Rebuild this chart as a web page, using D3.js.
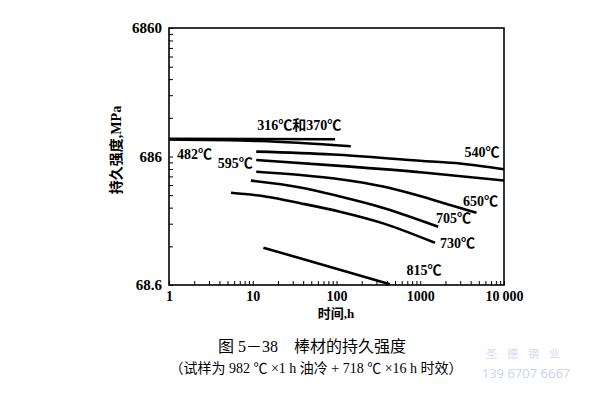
<!DOCTYPE html>
<html>
<head>
<meta charset="utf-8">
<script src="https://cdn.jsdelivr.net/npm/d3@7"></script>
<style>
  body { margin: 0; background: #fff; }
  svg { display: block; }
  .serif { font-family: "Liberation Serif", "Noto Sans CJK SC", serif; }
</style>
</head>
<body>
<div id="chart"></div>
<script>
// axis ticks
const xMajor = [1, 10, 100, 1000, 10000];
const xTickLabels = ["1", "10", "100", "1000", "10\u2009000"];
const yMajor = [68.6, 686, 6860];
const yTickLabels = ["68.6", "686", "6860"];

// curves: [hours, MPa]
const c316_370 = [[1, 940], [96, 935]];
const c482 = [[1, 930], [12, 905], [148, 825]];
const c540 = [[11, 748], [90, 711], [1080, 633], [3000, 605], [10000, 545]];
const c595 = [[11, 645], [110, 580], [1080, 515], [10000, 446]];
const c650 = [[11, 522], [37, 492], [110, 456], [360, 400], [900, 344], [2270, 288], [4700, 250]];
const c705 = [[9.5, 445], [37, 394], [110, 335], [330, 278], [1640, 195]];
const c730 = [[5.5, 358], [14.7, 334], [37, 297], [110, 255], [360, 207], [1500, 146]];
const c815 = [[13.4, 134], [435, 69.5]];

const curves = [c316_370, c482, c540, c595, c650, c705, c730, c815];
const curveNames = ["316℃和370℃", "482℃", "540℃", "595℃", "650℃", "705℃", "730℃", "815℃"];
// where each name sits, in data units
const labelAt = [[36, 1185], [2.02, 717], [5460, 743], [6.2, 600], [5240, 309], [2495, 224], [2785, 144], [1109, 89]];

(function () {
    'use strict'

    const W = 600, H = 393;
    const pLeft = 169, pRight = 504, pTop = 28, pBottom = 285;

    const svg = d3.select("#chart").append("svg").attr("width", W).attr("height", H);

    const x = d3.scaleLog().domain([1, 10000]).range([pLeft, pRight]);
    const y = d3.scaleLog().domain([68.6, 6860]).range([pBottom, pTop]);

    // minor ticks 1..9 per decade
    function logTicks(majors) {
        let t = [];
        majors.slice(0, -1).forEach(m => { for (let k = 1; k < 10; k++) t.push(m * k); });
        t.push(majors[majors.length - 1]);
        return t;
    }

    svg.append("clipPath").attr("id", "clip")
        .append("rect").attr("x", pLeft).attr("y", pTop).attr("width", pRight - pLeft).attr("height", pBottom - pTop);

    // x axis
    const xAxis = svg.append("g")
        .attr("transform", `translate(0,${pBottom})`)
        .call(d3.axisBottom(x).tickValues(logTicks(xMajor)).tickSize(-4).tickPadding(6)
            .tickFormat(d => { let i = xMajor.findIndex(m => Math.abs(m - d) < 1e-6); return i >= 0 ? xTickLabels[i] : ""; }));
    xAxis.select(".domain").remove();
    xAxis.selectAll("line").attr("stroke", "#000").attr("stroke-width", 1);
    xAxis.selectAll("text").attr("class", "serif").attr("font-size", 14).attr("font-weight", "bold").attr("fill", "#000");

    // y axis
    const yAxis = svg.append("g")
        .attr("transform", `translate(${pLeft},0)`)
        .call(d3.axisLeft(y).tickValues(logTicks(yMajor)).tickSize(-4).tickPadding(7)
            .tickFormat(d => { let i = yMajor.findIndex(m => Math.abs(m - d) < 1e-6); return i >= 0 ? yTickLabels[i] : ""; }));
    yAxis.select(".domain").remove();
    yAxis.selectAll("line").attr("stroke", "#000").attr("stroke-width", 1);
    yAxis.selectAll("text").attr("class", "serif").attr("font-size", 15).attr("font-weight", "bold").attr("fill", "#000");

    // frame
    svg.append("rect")
        .attr("x", pLeft).attr("y", pTop).attr("width", pRight - pLeft).attr("height", pBottom - pTop)
        .attr("fill", "none").attr("stroke", "#000").attr("stroke-width", 1.6);

    // curves
    const line = d3.line()
        .curve(d3.curveMonotoneX)
        .x(d => x(d[0]))
        .y(d => y(d[1]));

    svg.append("g").attr("clip-path", "url(#clip)")
        .selectAll("path").data(curves).join("path")
        .attr("d", line)
        .attr("fill", "none")
        .attr("stroke", "#000")
        .attr("stroke-width", 2.6);

    // curve names
    svg.append("g").selectAll("text").data(curveNames).join("text")
        .attr("class", "serif")
        .attr("x", (d, i) => x(labelAt[i][0]))
        .attr("y", (d, i) => y(labelAt[i][1]))
        .attr("text-anchor", "middle")
        .attr("dominant-baseline", "central")
        .attr("font-size", 14)
        .attr("font-weight", "bold")
        .text(d => d);

    // axis titles
    svg.append("text").attr("class", "serif")
        .attr("x", 336).attr("y", 318).attr("text-anchor", "middle")
        .attr("font-size", 13).attr("font-weight", "bold")
        .text("时间,h");

    svg.append("text").attr("class", "serif")
        .attr("transform", "translate(121,150) rotate(-90)")
        .attr("text-anchor", "middle")
        .attr("font-size", 14).attr("font-weight", "bold")
        .text("持久强度,MPa");

    // caption
    svg.append("text").attr("class", "serif")
        .attr("x", 312).attr("y", 352).attr("text-anchor", "middle")
        .attr("font-size", 16)
        .text("图 5－38　棒材的持久强度");

    svg.append("text").attr("class", "serif")
        .attr("x", 316).attr("y", 373).attr("text-anchor", "middle")
        .attr("font-size", 14)
        .text("（试样为 982 ℃ ×1 h 油冷 + 718 ℃ ×16 h 时效）");

    // watermark
    svg.append("text")
        .attr("x", 528).attr("y", 358).attr("text-anchor", "middle")
        .attr("font-family", "Noto Sans CJK SC").attr("font-size", 11)
        .attr("fill", "#d3dbef").attr("letter-spacing", 10)
        .text("圣德钢业");
    svg.append("text")
        .attr("x", 526).attr("y", 378).attr("text-anchor", "middle")
        .attr("font-family", "Noto Sans").attr("font-size", 13)
        .attr("fill", "#ccd5ee")
        .text("139  6707  6667");
}());
</script>
</body>
</html>
